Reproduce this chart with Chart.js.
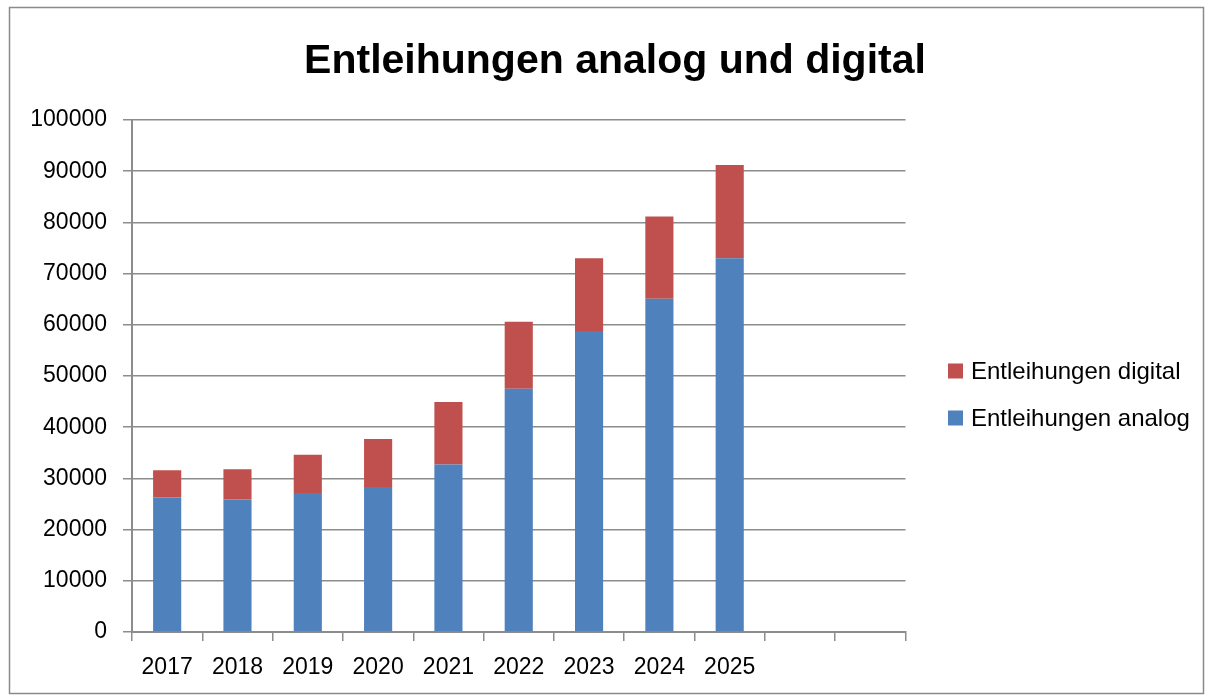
<!DOCTYPE html>
<html><head><meta charset="utf-8">
<script src="https://cdn.jsdelivr.net/npm/chart.js@4/dist/chart.umd.min.js"></script>
<style>html,body{margin:0;padding:0;background:#fff}#wrap{width:1214px;height:700px;position:relative}</style>
</head><body><div id="wrap"><canvas id="c" width="1214" height="700"></canvas></div>
<script>
const categories = ['2017', '2018', '2019', '2020', '2021', '2022', '2023', '2024', '2025', '', ''];
const analog = [26250, 25900, 27150, 28300, 32700, 47500, 58800, 65100, 73000, null, null];
const digital = [5350, 5900, 7450, 9400, 12200, 13100, 14200, 16050, 18200, null, null];
const seriesNames = ['Entleihungen analog', 'Entleihungen digital'];
const titleText = 'Entleihungen analog und digital';
const yMin = 0, yMax = 100000, yStep = 10000;

const FONT = "'Liberation Sans', Arial, sans-serif";
const GRID = '#8c8c8c';

const decor = {
  id: 'decor',
  afterDraw(chart) {
    const ctx = chart.ctx;
    ctx.save();
    // outer frame
    ctx.strokeStyle = '#8a8a8a';
    ctx.lineWidth = 1.5;
    ctx.strokeRect(9.5, 7.5, 1194, 686);
    // title
    ctx.fillStyle = '#000';
    ctx.font = "bold 41px " + FONT;
    ctx.textAlign = 'center';
    ctx.textBaseline = 'alphabetic';
    ctx.fillText(titleText, 615, 73);
    // legend (reverse order)
    ctx.font = "24px " + FONT;
    ctx.textAlign = 'left';
    ctx.textBaseline = 'middle';
    const ds = chart.data.datasets.slice().reverse();
    ds.forEach((d, i) => {
      const cy = 371 + i * 47;
      ctx.fillStyle = d.backgroundColor;
      ctx.fillRect(948, cy - 7.5, 15, 15);
      ctx.fillStyle = '#000';
      ctx.fillText(d.label, 971, cy + 1);
    });
    ctx.restore();
  }
};

new Chart(document.getElementById('c'), {
  type: 'bar',
  data: {
    labels: categories,
    datasets: [
      { label: seriesNames[0], data: analog, backgroundColor: '#4f81bd', borderWidth: 0 },
      { label: seriesNames[1], data: digital, backgroundColor: '#c0504d', borderWidth: 0 }
    ]
  },
  options: {
    responsive: false,
    animation: false,
    layout: { padding: { top: 120, right: 308.5, bottom: 0, left: 0 } },
    datasets: { bar: { categoryPercentage: 1, barPercentage: 0.4 } },
    plugins: {
      legend: { display: false },
      title: { display: false },
      tooltip: { enabled: false }
    },
    scales: {
      x: {
        stacked: true,
        offset: true,
        grid: { offset: true, drawOnChartArea: false, drawTicks: true, tickLength: 9, color: GRID, lineWidth: 1.5 },
        border: { display: true, color: GRID, width: 2 },
        ticks: { color: '#000', font: { family: FONT, size: 23 }, padding: 13, maxRotation: 0, autoSkip: false },
        afterFit(scale) { scale.height = 68; }
      },
      y: {
        stacked: true,
        min: yMin, max: yMax,
        grid: { color: GRID, lineWidth: 1.5, drawTicks: true, tickLength: 9 },
        border: { display: true, color: GRID, width: 2 },
        ticks: { stepSize: yStep, color: '#000', font: { family: FONT, size: 23 }, padding: 16,
                 callback: v => String(v) },
        afterFit(scale) { scale.width = 132; }
      }
    }
  },
  plugins: [decor]
});
</script></body></html>
